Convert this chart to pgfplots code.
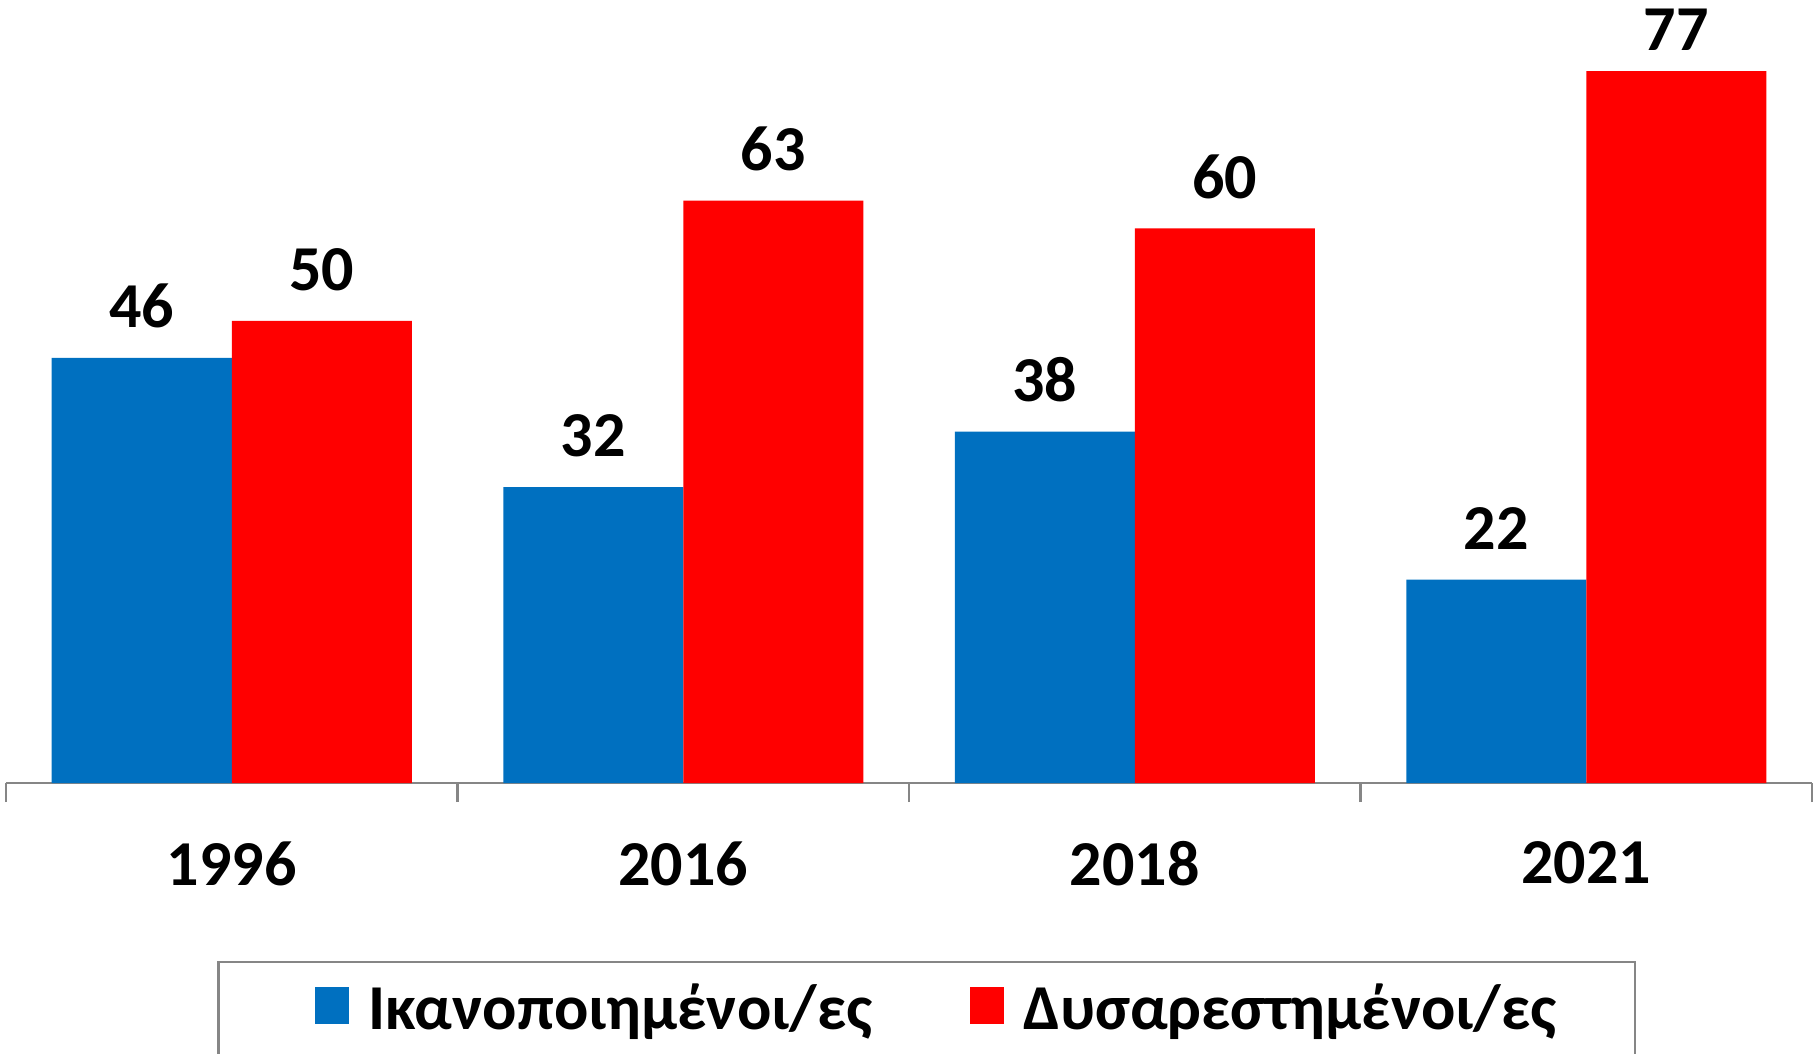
\documentclass[border=0pt]{standalone}
\usepackage{pgfplots}
\pgfplotsset{compat=1.18}
\usepackage{fontspec}
\setmainfont{Carlito}
\definecolor{satblue}{HTML}{0070C0}
\definecolor{disred}{HTML}{FF0000}
\definecolor{axgray}{HTML}{868686}

\pgfplotsset{
  sqlegend/.style={legend image code/.code={
      \fill[##1] (0pt,-0.3pt) rectangle (8.5pt,8.9pt);
      \path[draw=none, fill=none] (#1,4pt) -- (11.4pt,4pt);}},
}

\begin{document}
\begin{tikzpicture}[font=\fontsize{16}{19}\selectfont\bfseries]
% page = 1816 x 1053 px at 0.25pt per px
\useasboundingbox (-1.5pt,-67.5pt) rectangle (452.5pt,195.75pt);
\begin{axis}[
    at={(0,0)}, anchor=south west,
    scale only axis,
    width=451.5pt, height=195.75pt,
    ybar=0pt, bar width=45pt,
    xmin=-0.5, xmax=3.5, ymin=0, ymax=84.7,
    axis x line=bottom, axis y line=none,
    axis line style={draw=axgray, line width=0.6pt, -},
    xtick={0,1,2,3},
    xticklabels={1996,2016,2018,2021},
    major x tick style={draw=none},
    extra x ticks={-0.5,0.5,1.5,2.5,3.5},
    extra x tick labels={},
    extra x tick style={tick align=outside, major tick length=4.75pt,
        major x tick style={draw=axgray, line width=0.6pt}},
    xticklabel style={font=\fontsize{16}{19}\selectfont\bfseries, yshift=-9pt},
    ytick=\empty,
    /pgf/number format/assume math mode=true,
    nodes near coords,
    visualization depends on={y \as \rawy},
    % labels sit 7.25pt above the bar, but the tallest one is kept inside the chart
    every node near coord/.append style={font=\fontsize{16}{19}\selectfont\bfseries,
        inner sep=0pt, yshift={(\rawy>70 ? 5 : 7.25)*1pt}, text=black},
    legend columns=2,
    legend style={at={(0.5097,-0.2273)}, anchor=north, draw=axgray, line width=0.6pt,
        font=\fontsize{16}{19}\selectfont\bfseries,
        inner xsep=17.5pt, inner ysep=3.5pt,
        nodes={text depth=8pt},
        /tikz/every even column/.append style={column sep=22.25pt}},
]
\addplot[fill=satblue, draw=none, sqlegend=-6.7pt]
    coordinates {(0,46) (1,32) (2,38) (3,22)};
\addplot[fill=disred, draw=none, sqlegend=0pt]
    coordinates {(0,50) (1,63) (2,60) (3,77)};
\legend{Ικανοποιημένοι/ες, Δυσαρεστημένοι/ες}
\end{axis}
\end{tikzpicture}
\end{document}
